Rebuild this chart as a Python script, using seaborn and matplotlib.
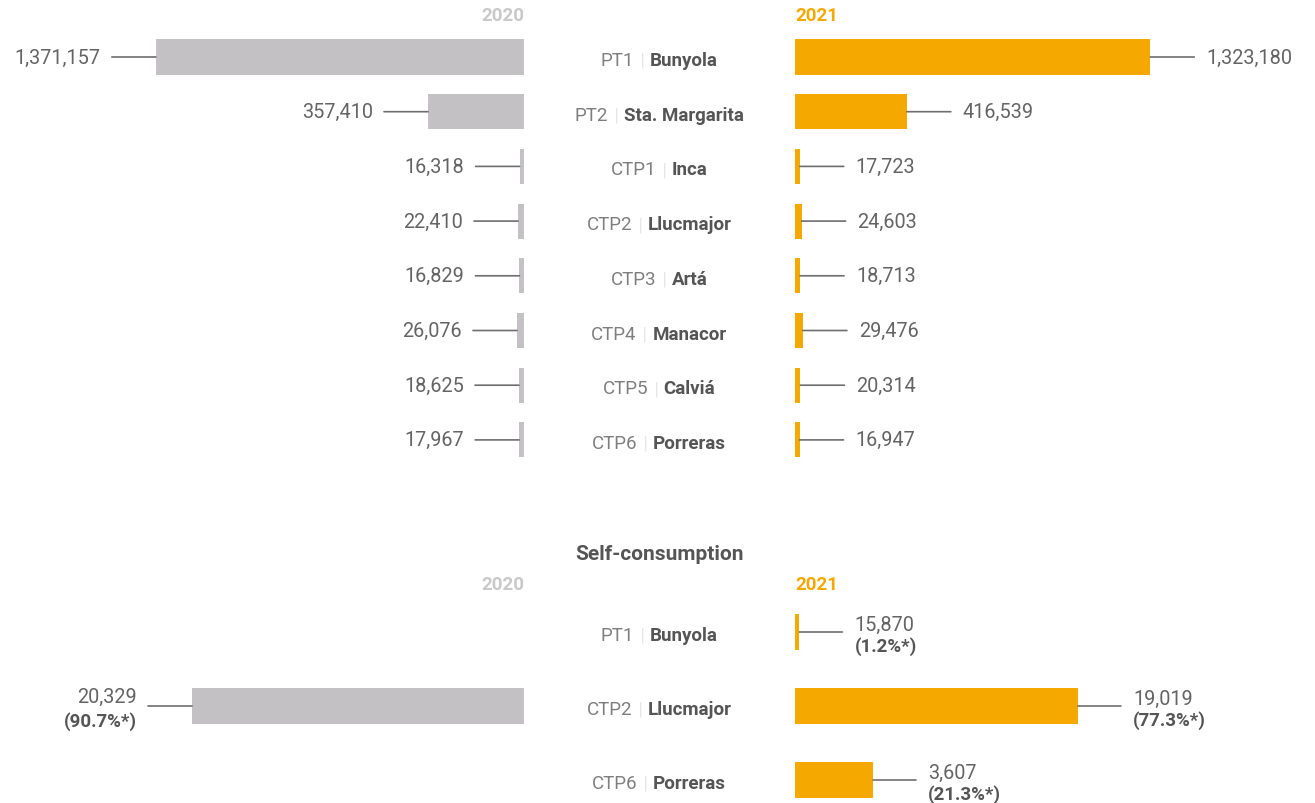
import numpy as np
import pandas as pd
import matplotlib
matplotlib.use("Agg")
import matplotlib.pyplot as plt
import seaborn as sns

# Energy produced per plant (kWh)
codes = ["PT1", "PT2", "CTP1", "CTP2", "CTP3", "CTP4", "CTP5", "CTP6"]
sites = ["Bunyola", "Sta. Margarita", "Inca", "Llucmajor", "Artá", "Manacor", "Calviá", "Porreras"]
prod_2020 = [1371157, 357410, 16318, 22410, 16829, 26076, 18625, 17967]
prod_2021 = [1323180, 416539, 17723, 24603, 18713, 29476, 20314, 16947]

# Self-consumption per plant (kWh and share of plant consumption)
self_codes = ["PT1", "CTP2", "CTP6"]
self_sites = ["Bunyola", "Llucmajor", "Porreras"]
self_2020 = [np.nan, 20329, np.nan]
self_2020_pct = [np.nan, 90.7, np.nan]
self_2021 = [15870, 19019, 3607]
self_2021_pct = [1.2, 77.3, 21.3]

GREY = "#C3C1C4"
ORANGE = "#F5A800"
LINE = "#6E6E6E"
NUM = "#646464"
DARK = "#555555"
LIGHT = "#7E7E7E"
SEP = "#BDBDBD"
HEAD_2020 = "#C9C9C9"

sns.set_theme(style="white")
plt.rcParams["font.family"] = ["Roboto", "DejaVu Sans"]

W, H, DPI = 1315, 804, 100
fig = plt.figure(figsize=(W / DPI, H / DPI), dpi=DPI)


def px_axes(x0, y0, x1, y1):
    ax = fig.add_axes([x0 / W, 1 - y1 / H, (x1 - x0) / W, (y1 - y0) / H])
    ax.set_axis_off()
    return ax


def bars(ax, labels, values, color, width):
    df = pd.DataFrame({"site": labels, "value": values})
    sns.barplot(data=df, x="value", y="site", order=labels, orient="h",
                color=color, saturation=1, width=width, linewidth=0, ax=ax)
    ax.set_axis_off()


def value_label(ax, v, i, side, line_len, gap, lines):
    sign = -1 if side == "left" else 1
    ax.annotate("", xy=(v, i), xytext=(sign * line_len, 0), textcoords="offset pixels",
                arrowprops=dict(arrowstyle="-", color=LINE, lw=1.2,
                                shrinkA=0, shrinkB=0))
    ha = "right" if side == "left" else "left"
    for txt, dy, weight, size, color in lines:
        ax.annotate(txt, xy=(v, i), xytext=(sign * (line_len + gap), dy),
                    textcoords="offset pixels", ha=ha, va="center",
                    fontsize=size, fontweight=weight, color=color)


NUM_SIZE = 14.3

# ---------- production section ----------
row0, step = 58, 54.7
n = len(codes)
top, bottom = row0 - step / 2, row0 + (n - 1) * step + step / 2
units_per_px = 1 / 2.685e-4

axL = px_axes(0, top, 524, bottom)
bars(axL, sites, prod_2020, GREY, 0.64)
axL.set_xlim(524 * units_per_px, 0)
axL.set_ylim(n - 0.5, -0.5)

axR = px_axes(795, top, 1315, bottom)
bars(axR, sites, prod_2021, ORANGE, 0.64)
axR.set_xlim(0, 520 * units_per_px)
axR.set_ylim(n - 0.5, -0.5)

for i, (a, b) in enumerate(zip(prod_2020, prod_2021)):
    value_label(axL, a, i, "left", 44, 11, [(f"{a:,}", 0, "normal", NUM_SIZE, NUM)])
    value_label(axR, b, i, "right", 44, 12, [(f"{b:,}", 0, "normal", NUM_SIZE, NUM)])

# ---------- self-consumption section ----------
srow0, sstep = 633, 74
m = len(self_codes)
stop, sbottom = srow0 - sstep / 2, srow0 + (m - 1) * sstep + sstep / 2
pct_px = 3.66

axL2 = px_axes(0, stop, 524, sbottom)
bars(axL2, self_sites, self_2020_pct, GREY, 0.473)
axL2.set_xlim(524 / pct_px, 0)
axL2.set_ylim(m - 0.5, -0.5)

axR2 = px_axes(795, stop, 1315, sbottom)
bars(axR2, self_sites, self_2021_pct, ORANGE, 0.473)
axR2.set_xlim(0, 520 / pct_px)
axR2.set_ylim(m - 0.5, -0.5)

for i in range(m):
    if not np.isnan(self_2020_pct[i]):
        value_label(axL2, self_2020_pct[i], i, "left", 44, 11,
                    [(f"{int(self_2020[i]):,}", 10, "normal", NUM_SIZE, NUM),
                     (f"({self_2020_pct[i]:.1f}%*)", -15, "bold", 13.5, DARK)])
    if not np.isnan(self_2021_pct[i]):
        value_label(axR2, self_2021_pct[i], i, "right", 43, 12,
                    [(f"{int(self_2021[i]):,}", 8, "normal", NUM_SIZE, NUM),
                     (f"({self_2021_pct[i]:.1f}%*)", -14, "bold", 13.5, DARK)])

# ---------- headers and centre labels ----------
def ftext(x, y, s, **kw):
    return fig.text(x / W, 1 - y / H, s, **kw)


for y in (16, 585):
    ftext(524, y, "2020", ha="right", va="center", fontsize=13.5,
          fontweight="bold", color=HEAD_2020)
    ftext(795, y, "2021", ha="left", va="center", fontsize=13.5,
          fontweight="bold", color=ORANGE)

ftext(659, 555, "Self-consumption", ha="center", va="center", fontsize=15,
      fontweight="bold", color=DARK)

renderer = fig.canvas.get_renderer()


def centre_label(y, code, site):
    parts = [(code, "normal", LIGHT), ("|", "light", SEP), (site, "bold", DARK)]
    objs = [ftext(0, y, s, ha="left", va="center", fontsize=13.5,
                  fontweight=w, color=c) for s, w, c in parts]
    space = 6
    widths = [o.get_window_extent(renderer).width for o in objs]
    total = sum(widths) + space * (len(objs) - 1)
    x = 659 - total / 2
    for o, w in zip(objs, widths):
        o.set_x(x / W)
        x += w + space


for i, (c, s) in enumerate(zip(codes, sites)):
    centre_label(row0 + i * step + 3, c, s)
for i, (c, s) in enumerate(zip(self_codes, self_sites)):
    centre_label(srow0 + i * sstep + 3, c, s)

fig.savefig("out.png", dpi=DPI)
